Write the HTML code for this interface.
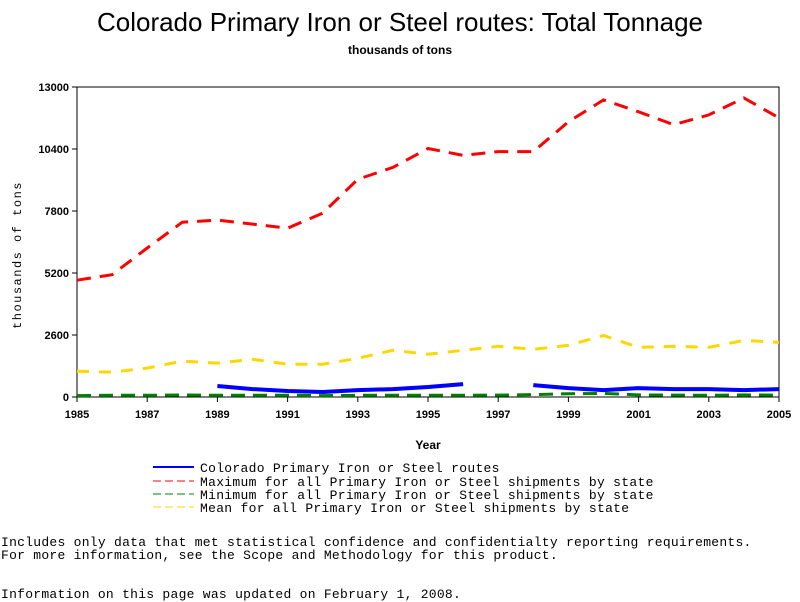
<!DOCTYPE html>
<html><head><meta charset="utf-8"><style>
body{margin:0;background:#fff;width:800px;height:600px;overflow:hidden;}
.mono{font-family:"Liberation Mono",monospace;font-size:13px;letter-spacing:0.27px;position:absolute;white-space:pre;margin:0;}
</style></head><body>
<svg width="800" height="600" style="position:absolute;left:0;top:0" id="svg">
<text x="400" y="31" text-anchor="middle" font-family="Liberation Sans, sans-serif" font-size="26">Colorado Primary Iron or Steel routes: Total Tonnage</text>
<text x="400" y="54" text-anchor="middle" font-family="Liberation Sans, sans-serif" font-size="12" font-weight="bold">thousands of tons</text>
<text transform="translate(21,255) rotate(-90)" text-anchor="middle" font-family="Liberation Mono, monospace" font-size="12" letter-spacing="1.5">thousands of tons</text>
<text x="428" y="449" text-anchor="middle" font-family="Liberation Sans, sans-serif" font-size="12" font-weight="bold">Year</text>
<g id="axes"></g>
<g id="series"></g>
<g id="legend" font-family="Liberation Mono, monospace" font-size="13" letter-spacing="0.3">
<line x1="153" y1="467" x2="194" y2="467" stroke="#0000ff" stroke-width="2"/>
<text x="200" y="472">Colorado Primary Iron or Steel routes</text>
<line x1="153" y1="481" x2="194" y2="481" stroke="#ff0000" stroke-width="1" stroke-dasharray="8,4"/>
<text x="200" y="486">Maximum for all Primary Iron or Steel shipments by state</text>
<line x1="153" y1="494" x2="194" y2="494" stroke="#008000" stroke-width="1" stroke-dasharray="8,4"/>
<text x="200" y="499">Minimum for all Primary Iron or Steel shipments by state</text>
<line x1="153" y1="507" x2="194" y2="507" stroke="#ffd700" stroke-width="1" stroke-dasharray="8,4"/>
<text x="200" y="512">Mean for all Primary Iron or Steel shipments by state</text>
</g>
</svg>
<div class="mono" style="left:1px;top:535px">Includes only data that met statistical confidence and confidentialty reporting requirements.</div>
<div class="mono" style="left:1px;top:548px">For more information, see the Scope and Methodology for this product.</div>
<div class="mono" style="left:1px;top:587px">Information on this page was updated on February 1, 2008.</div>
<script>
const years=[1985,1986,1987,1988,1989,1990,1991,1992,1993,1994,1995,1996,1997,1998,1999,2000,2001,2002,2003,2004,2005];
const maxVals=[4900,5130,6250,7330,7420,7250,7080,7710,9130,9630,10420,10130,10290,10290,11540,12460,11960,11420,11830,12540,11710];
const meanVals=[1080,1040,1210,1500,1420,1580,1375,1375,1625,1960,1790,1960,2125,2000,2170,2580,2080,2125,2080,2375,2290];
const coVals=[null,null,null,null,460,330,250,210,290,330,420,540,null,500,375,290,375,330,330,290,330];
const minVals=[60,70,70,90,70,70,70,60,70,70,70,70,80,100,140,150,90,80,70,90,80];
const yTicks=[0,2600,5200,7800,10400,13000];
const xTicks=[1985,1987,1989,1991,1993,1995,1997,1999,2001,2003,2005];
const L=77,R=779,T=87,B=397;
const sx=y=>L+(y-1985)*(R-L)/20, sy=v=>B-v*(B-T)/13000;
const NS="http://www.w3.org/2000/svg";
const ax=document.getElementById('axes'), se=document.getElementById('series');
function mk(tag,attrs,parent){const e=document.createElementNS(NS,tag);for(const k in attrs)e.setAttribute(k,attrs[k]);parent.appendChild(e);return e;}
const frame=mk('rect',{x:L,y:T,width:R-L,height:B-T,fill:'none',stroke:'#000','stroke-width':1},ax);


yTicks.forEach(v=>{
 mk('line',{x1:L-5,x2:L,y1:sy(v),y2:sy(v),stroke:'#000'},ax);
 const t=mk('text',{x:L-8,y:sy(v)+4,'text-anchor':'end','font-family':'Liberation Sans, sans-serif','font-size':11,'font-weight':'bold'},ax);
 t.textContent=v;
 
 
});
xTicks.forEach(y=>{
 mk('line',{x1:sx(y),x2:sx(y),y1:B,y2:B+5,stroke:'#000'},ax);
 const t=mk('text',{x:sx(y),y:B+21,'text-anchor':'middle','font-family':'Liberation Sans, sans-serif','font-size':11,'font-weight':'bold'},ax);
 t.textContent=y;
 
 
});
function line(vals,color,w,dash,name){
 let segs=[],cur=[];
 vals.forEach((v,i)=>{if(v==null){if(cur.length)segs.push(cur);cur=[];}else cur.push(sx(years[i]).toFixed(1)+','+sy(v).toFixed(1));});
 if(cur.length)segs.push(cur);
 segs.forEach(s=>{
  const p=mk('polyline',{points:s.join(' '),fill:'none',stroke:color,'stroke-width':w,'stroke-dasharray':dash||'none'},se);
  
  
 });
}
line(minVals,'#008000',3,'14,8','series-min');
line(meanVals,'#ffd700',3,'12,10','series-mean');
line(maxVals,'#ff0000',3,'14,9','series-max');
line(coVals,'#0000ff',4,null,'series-colorado');
</script>
</body></html>
